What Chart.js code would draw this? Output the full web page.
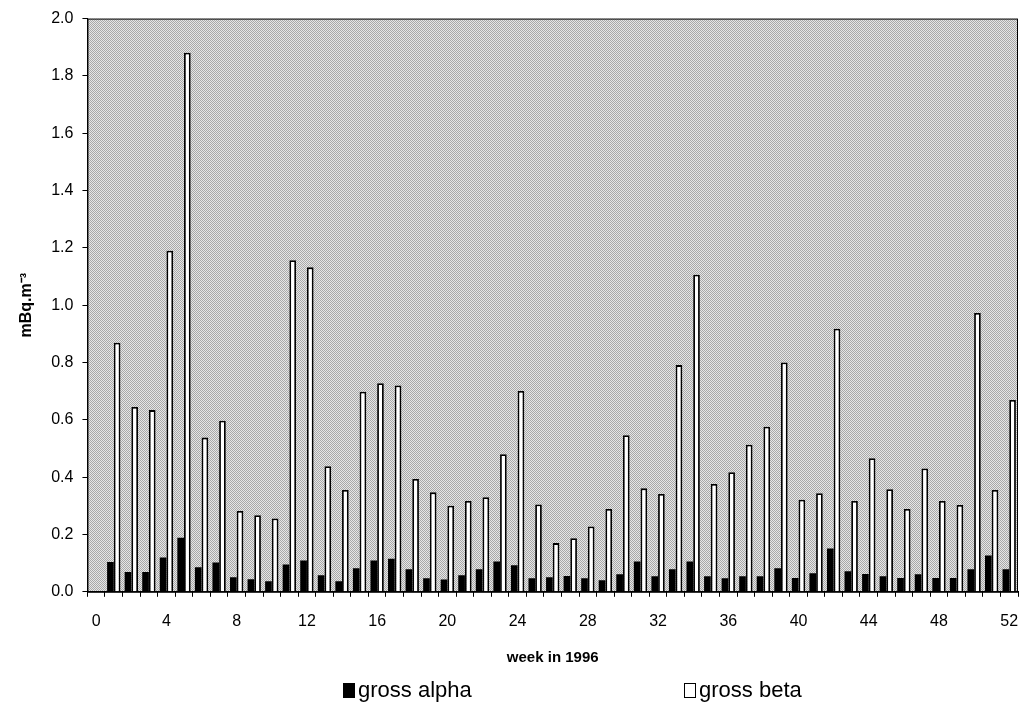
<!DOCTYPE html>
<html>
<head>
<meta charset="utf-8">
<script src="https://cdn.jsdelivr.net/npm/chart.js@4/dist/chart.umd.min.js"></script>
<style>
  body { margin: 0; background: #fff; }
  #wrap { position: relative; width: 1023px; height: 705px; }
  #legenda { position: absolute; left: 0; top: 677px; width: 1023px; height: 28px;
    font-family: "Liberation Sans", Arial, sans-serif; font-size: 22px; color: #000; }
  .item { position: absolute; top: 0; white-space: nowrap; }
  .caja { display: inline-block; width: 12px; height: 15px; margin-right: 3px; vertical-align: -1px; box-sizing: border-box; }
</style>
</head>
<body>
<div id="wrap">
  <canvas id="grafica" width="1023" height="705"></canvas>
  <div id="legenda">
    <span class="item" style="left:343px"><span class="caja" style="background:#000"></span>gross alpha</span>
    <span class="item" style="left:684px"><span class="caja" style="background:#fff;border:1.5px solid #000"></span>gross beta</span>
  </div>
</div>
<script>
// semanas 0..52 (la 0 sin medida)
const semanas = ['0','1','2','3','4','5','6','7','8','9','10','11','12','13','14','15','16','17','18','19','20',
  '21','22','23','24','25','26','27','28','29','30','31','32','33','34','35','36','37','38','39','40',
  '41','42','43','44','45','46','47','48','49','50','51','52'];

// mBq.m-3
const grossAlpha = [null,
  0.104, 0.069, 0.069, 0.120, 0.189, 0.086, 0.102, 0.051, 0.044, 0.037,
  0.095, 0.109, 0.058, 0.037, 0.082, 0.109, 0.115, 0.079, 0.047, 0.043,
  0.058, 0.079, 0.106, 0.093, 0.047, 0.051, 0.055, 0.047, 0.040, 0.061,
  0.106, 0.054, 0.079, 0.106, 0.054, 0.047, 0.054, 0.054, 0.082, 0.048,
  0.065, 0.151, 0.072, 0.062, 0.054, 0.048, 0.061, 0.048, 0.048, 0.079,
  0.127, 0.079];

const grossBeta = [null,
  0.869, 0.645, 0.634, 1.190, 1.881, 0.538, 0.597, 0.282, 0.267, 0.256,
  1.157, 1.132, 0.438, 0.355, 0.698, 0.728, 0.720, 0.394, 0.347, 0.300,
  0.317, 0.330, 0.480, 0.701, 0.305, 0.170, 0.187, 0.228, 0.289, 0.546,
  0.361, 0.341, 0.791, 1.106, 0.376, 0.417, 0.513, 0.576, 0.800, 0.321,
  0.344, 0.918, 0.317, 0.466, 0.358, 0.289, 0.430, 0.317, 0.303, 0.973,
  0.355, 0.669];

const fuente = '"Liberation Sans", Arial, sans-serif';

// trama gris punteada del fondo
function crearTrama(ctx) {
  const c = document.createElement('canvas');
  c.width = 4; c.height = 4;
  const g = c.getContext('2d');
  for (let y = 0; y < 4; y++) {
    for (let x = 0; x < 4; x++) {
      g.fillStyle = ((x + y) % 2 === 0) ? '#a8a8a8' : '#e6e6e6';
      g.fillRect(x, y, 1, 1);
    }
  }
  return ctx.createPattern(c, 'repeat');
}

const fondoArea = {
  id: 'fondoArea',
  beforeDraw(chart) {
    const {ctx, chartArea: a} = chart;
    ctx.save();
    ctx.fillStyle = crearTrama(ctx);
    ctx.fillRect(a.left, a.top, a.right - a.left, a.bottom - a.top);
    ctx.restore();
  },
  afterDraw(chart) {
    const {ctx, chartArea: a} = chart;
    ctx.save();
    ctx.strokeStyle = '#000';
    ctx.lineWidth = 1;
    ctx.strokeRect(a.left + 0.5, a.top + 0.5, a.right - a.left - 1, a.bottom - a.top);
    ctx.restore();
  }
};

new Chart(document.getElementById('grafica'), {
  type: 'bar',
  data: {
    labels: semanas,
    datasets: [
      { label: 'gross alpha', data: grossAlpha, backgroundColor: '#000', borderWidth: 0,
        categoryPercentage: 0.76, barPercentage: 1.0 },
      { label: 'gross beta', data: grossBeta, backgroundColor: '#fff', borderColor: '#000', borderWidth: 1.8,
        categoryPercentage: 0.76, barPercentage: 1.0 }
    ]
  },
  options: {
    responsive: false,
    animation: false,
    layout: { padding: { top: 10, right: 5, bottom: 38, left: 13 } },
    plugins: { legend: { display: false }, tooltip: { enabled: false } },
    scales: {
      x: {
        offset: true,
        // sin margen extra a los lados por las etiquetas
        afterFit: s => { s.paddingLeft = 0; s.paddingRight = 0; },
        grid: { display: true, offset: true, drawOnChartArea: false, drawTicks: true, tickLength: 5, color: '#000' },
        border: { display: true, color: '#000', width: 1 },
        ticks: {
          autoSkip: false, maxRotation: 0, padding: 15, color: '#000',
          font: { family: fuente, size: 16 },
          callback: (v, i) => (i % 4 === 0 ? semanas[i] : '')
        },
        title: { display: true, text: 'week in 1996', color: '#000', padding: { top: 3, bottom: 0 },
          font: { family: fuente, size: 15, weight: 'bold' } }
      },
      y: {
        min: 0, max: 2.0,
        grid: { display: true, drawOnChartArea: false, drawTicks: true, tickLength: 5, color: '#000' },
        border: { display: true, color: '#000', width: 1 },
        ticks: {
          stepSize: 0.2, padding: 9, color: '#000',
          font: { family: fuente, size: 16 },
          callback: v => v.toFixed(1)
        },
        title: { display: true, text: 'mBq.m⁻³', color: '#000', padding: { bottom: 6 },
          font: { family: fuente, size: 16, weight: 'bold' } }
      }
    }
  },
  plugins: [fondoArea]
});
</script>
</body>
</html>
